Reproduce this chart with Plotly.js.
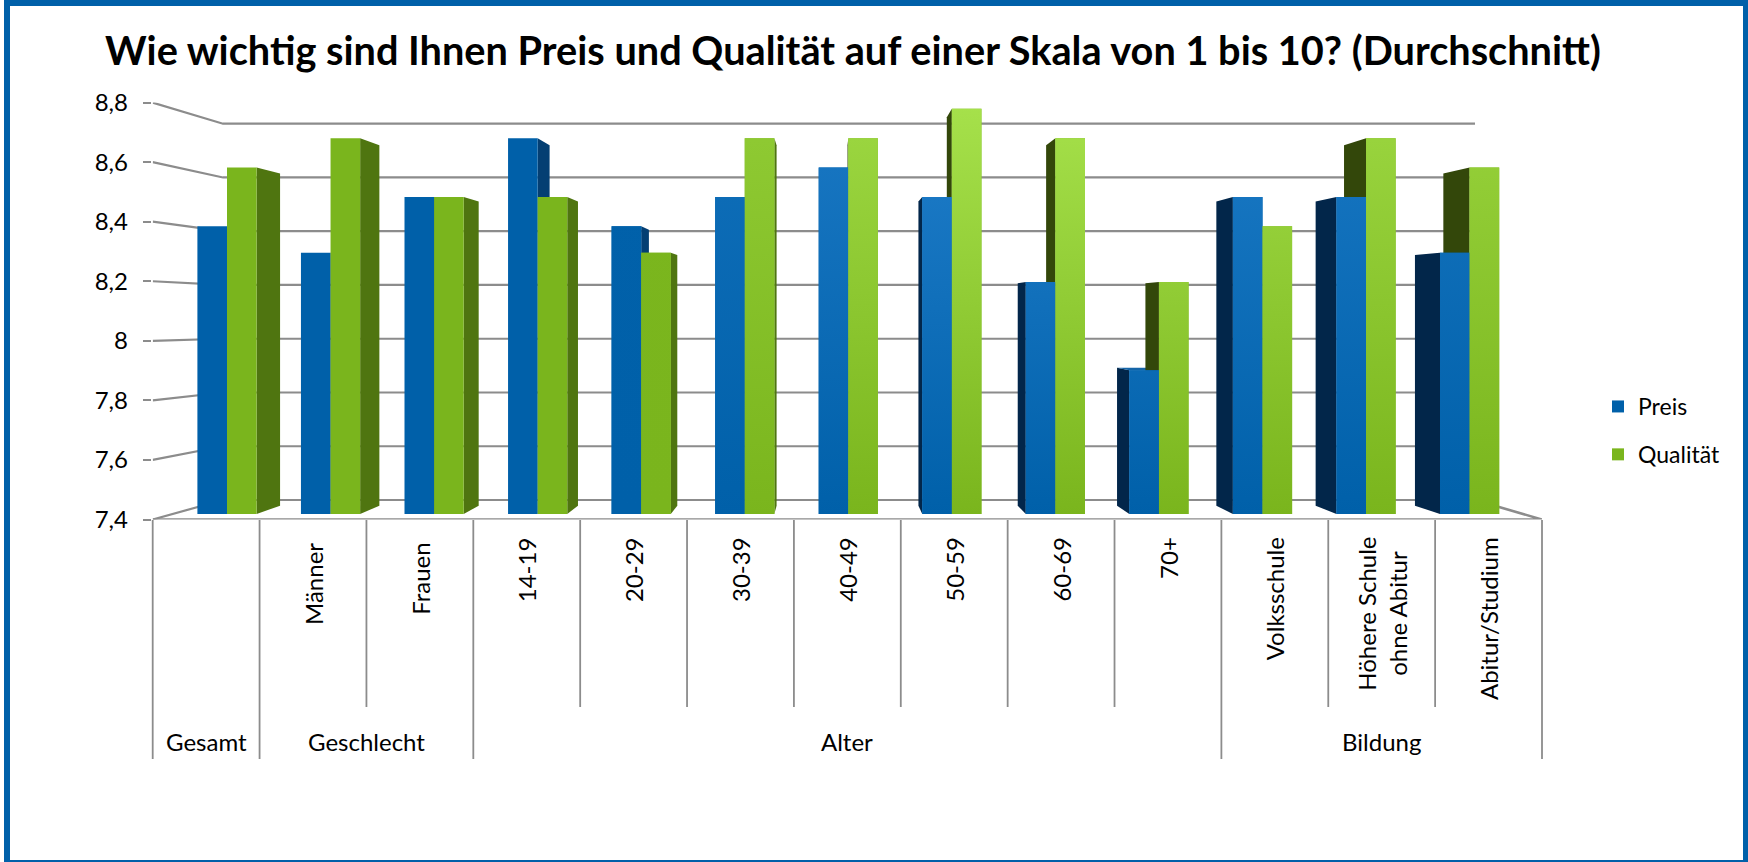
<!DOCTYPE html>
<html><head><meta charset="utf-8">
<script src="https://cdn.plot.ly/plotly-3.0.1.min.js"></script>
<style>html,body{margin:0;padding:0;background:#fff}#c{width:1748px;height:862px}</style></head>
<body><div id="c"></div>
<script>
const categories = ["Gesamt","Männer","Frauen","14-19","20-29","30-39","40-49","50-59","60-69","70+","Volksschule","Höhere Schule<br>ohne Abitur","Abitur/Studium"];
const groups = ["Gesamt","Geschlecht","Alter","Bildung"];
const groupSizes = [1,2,7,3];
const preis = [8.38,8.29,8.48,8.68,8.38,8.48,8.58,8.48,8.19,7.89,8.48,8.48,8.29];
const qualitaet = [8.58,8.68,8.48,8.48,8.29,8.68,8.68,8.78,8.68,8.19,8.38,8.68,8.58];
const yTicks = [7.4,7.6,7.8,8,8.2,8.4,8.6,8.8];
const yTickText = ["7,4","7,6","7,8","8","8,2","8,4","8,6","8,8"];
const title = "Wie wichtig sind Ihnen Preis und Qualität auf einer Skala von 1 bis 10? (Durchschnitt)";

const W=1748,H=862,FONT="Lato, 'Open Sans', sans-serif";
const GREY="#8c8c8c", BLUE="#0060a9", GREEN="#7ab51d";
const px=x=>x/W, py=y=>1-y/H;

// bar plane: value 7.4 sits on pixel 514, value 8.8 on pixel 103
const plane={left:152.7,right:1542,x0:227,step:103.55,yBase:514,yTop:103};
const front={top:102.6,bottom:519.5};
const xOfPx=p=>(p-plane.x0)/plane.step;
const vOfPx=p=>7.4+(plane.yBase-p)*1.4/(plane.yBase-plane.yTop);
const barW=29.6/plane.step;
// perspective of the bar depth
const depth=0.959, vx=xOfPx(829), vy=vOfPx(311);
const back=(x,v)=>[vx+(x-vx)*depth, vy+(v-vy)*depth];

const traces=[];
// walls live on the visible value axis
const wallPx=v=>500-(v-7.4)*(500-123.7)/1.4;
const axisV=p=>7.4+(front.bottom-p)*1.4/(front.bottom-front.top);
const wallL=xOfPx(223), wallR=xOfPx(1475), frontL=xOfPx(plane.left), frontR=xOfPx(plane.right);
yTicks.forEach(v=>{
  traces.push({type:"scatter",mode:"lines",x:[frontL,wallL,wallR],y:[v,axisV(wallPx(v)),axisV(wallPx(v))],
    line:{color:GREY,width:2.2},cliponaxis:false,showlegend:false,hoverinfo:"skip"});
});
traces.push({type:"scatter",mode:"lines",x:[wallR,frontR,frontL],y:[axisV(wallPx(7.4)),7.4,7.4],
  line:{color:GREY,width:2.6},cliponaxis:false,showlegend:false,hoverinfo:"skip"});

function face(xs,ys,color){traces.push({type:"scatter",mode:"none",fill:"toself",fillcolor:color,x:xs,y:ys,yaxis:"y2",showlegend:false,hoverinfo:"skip",zorder:1});}
function sides(vals,off,rightCol,leftCol,topCol){
  vals.forEach((v,i)=>{
    const l=i+off,r=l+barW;
    if(r<vx){const [bx,bt]=back(r,v),[,bb]=back(r,7.4);face([r,r,bx,bx,r],[7.4,v,bt,bb,7.4],rightCol);}
    if(l>vx){const [bx,bt]=back(l,v),[,bb]=back(l,7.4);face([l,l,bx,bx,l],[7.4,v,bt,bb,7.4],leftCol);}
    if(v<vy){const a=back(l,v),b=back(r,v);face([l,r,b[0],a[0],l],[v,v,b[1],a[1],v],topCol);}
  });
}
sides(preis,-barW,"#043f73","#02264a","#1565a8");
sides(qualitaet,0,"#4f7510","#33470a","#8cc832");

// front faces are the real bars
const idx=categories.map((_,i)=>i);
const hov=categories.map(c=>c.replace("<br>"," "));
traces.push({type:"bar",name:"Preis",legendgroup:"p",x:idx,y:preis,yaxis:"y2",text:hov,textposition:"none",hovertemplate:"%{text}: %{y}<extra>Preis</extra>",marker:{color:BLUE,line:{width:0}},zorder:2});
traces.push({type:"bar",name:"Qualität",legendgroup:"q",x:idx,y:qualitaet,yaxis:"y2",text:hov,textposition:"none",hovertemplate:"%{text}: %{y}<extra>Qualität</extra>",marker:{color:GREEN,line:{width:0}},zorder:2});

// light falling on the right half of the chart
const lightStrength=[0,0,0,0,0.03,0.5,0.8,1,1,0.95,0.85,0.75,0.65];
const mix=(a,b,t)=>"rgb("+a.map((c,j)=>Math.round(c+(b[j]-c)*t)).join(",")+")";
function light(vals,off,base,top){
  vals.forEach((v,i)=>{
    const s=lightStrength[i]; if(!s) return;
    const l=i+off,r=l+barW;
    traces.push({type:"scatter",mode:"none",fill:"toself",x:[l,r,r,l,l],y:[7.4,7.4,v,v,7.4],yaxis:"y2",
      fillgradient:{type:"vertical",start:7.4,stop:8.8,colorscale:[[0,mix(base,base,0)],[1,mix(base,top,s)]]},
      showlegend:false,hoverinfo:"skip",zorder:3});
  });
}
light(preis,-barW,[0,96,169],[32,126,203]);
light(qualitaet,0,[122,181,29],[166,225,75]);

// category dividers and labels
const catW=(plane.right-plane.left)/13, catX=k=>plane.left+catW*k;
const shapes=[],ann=[];
const line=(x,y0,y1)=>shapes.push({type:"line",xref:"paper",yref:"paper",x0:px(x),x1:px(x),y0:py(y0),y1:py(y1),line:{color:GREY,width:1.8}});
let bounds=[0];groupSizes.forEach(n=>bounds.push(bounds[bounds.length-1]+n));
for(let k=0;k<=13;k++){line(catX(k),520,bounds.includes(k)?759:707);}
categories.forEach((c,i)=>{
  if(i===0) return;
  const drop=(i===1||i===2)?6:0;
  ann.push({xref:"paper",yref:"paper",x:px(catX(i+0.5)),y:py(535+drop),xanchor:"center",yanchor:"top",text:c,textangle:-90,showarrow:false,
    font:{family:FONT,size:24,color:"#000"},align:"center"});
});
groups.forEach((g,j)=>{
  ann.push({xref:"paper",yref:"paper",x:px((catX(bounds[j])+catX(bounds[j+1]))/2),y:py(741),xanchor:"center",yanchor:"middle",text:g,showarrow:false,
    font:{family:FONT,size:24,color:"#000"}});
});
// frame
[[4,0,10,862],[4,0,1748,6],[1743,0,1748,862],[4,860,1748,862]].forEach(r=>shapes.push({type:"rect",xref:"paper",yref:"paper",x0:px(r[0]),x1:px(r[2]),y0:py(r[1]),y1:py(r[3]),fillcolor:BLUE,line:{width:0},layer:"above"}));

const layout={
  width:W,height:H,margin:{l:0,r:0,t:0,b:0,pad:0},paper_bgcolor:"#fff",plot_bgcolor:"rgba(0,0,0,0)",
  font:{family:FONT,color:"#000"},
  title:{text:"<b>"+title+"</b>",x:853/W,xanchor:"center",y:py(51),yanchor:"middle",yref:"container",font:{family:FONT,size:39.7,color:"#000"}},
  barmode:"group",bargap:1-2*barW,bargroupgap:0,
  xaxis:{domain:[px(plane.left),px(plane.right)],range:[frontL,frontR],visible:false,fixedrange:true},
  yaxis:{domain:[py(front.bottom),py(front.top)],range:[7.4,8.8],
    tickmode:"array",tickvals:yTicks,ticktext:yTickText,ticks:"outside",ticklen:8,tickwidth:1.8,tickcolor:GREY,ticklabelstandoff:10,
    showline:true,linecolor:GREY,linewidth:1.8,showgrid:false,zeroline:false,fixedrange:true,
    tickfont:{family:FONT,size:24,color:"#000"}},
  yaxis2:{domain:[py(plane.yBase),py(plane.yTop)],range:[7.4,8.8],visible:false,fixedrange:true,anchor:"x"},
  legend:{x:px(1598),y:py(385),xanchor:"left",yanchor:"top",traceorder:"grouped",tracegroupgap:15,font:{family:FONT,size:23,color:"#000"},bgcolor:"rgba(0,0,0,0)"},
  showlegend:true,shapes:shapes,annotations:ann
};
Plotly.newPlot("c",traces,layout,{displayModeBar:false,responsive:false});
</script></body></html>
